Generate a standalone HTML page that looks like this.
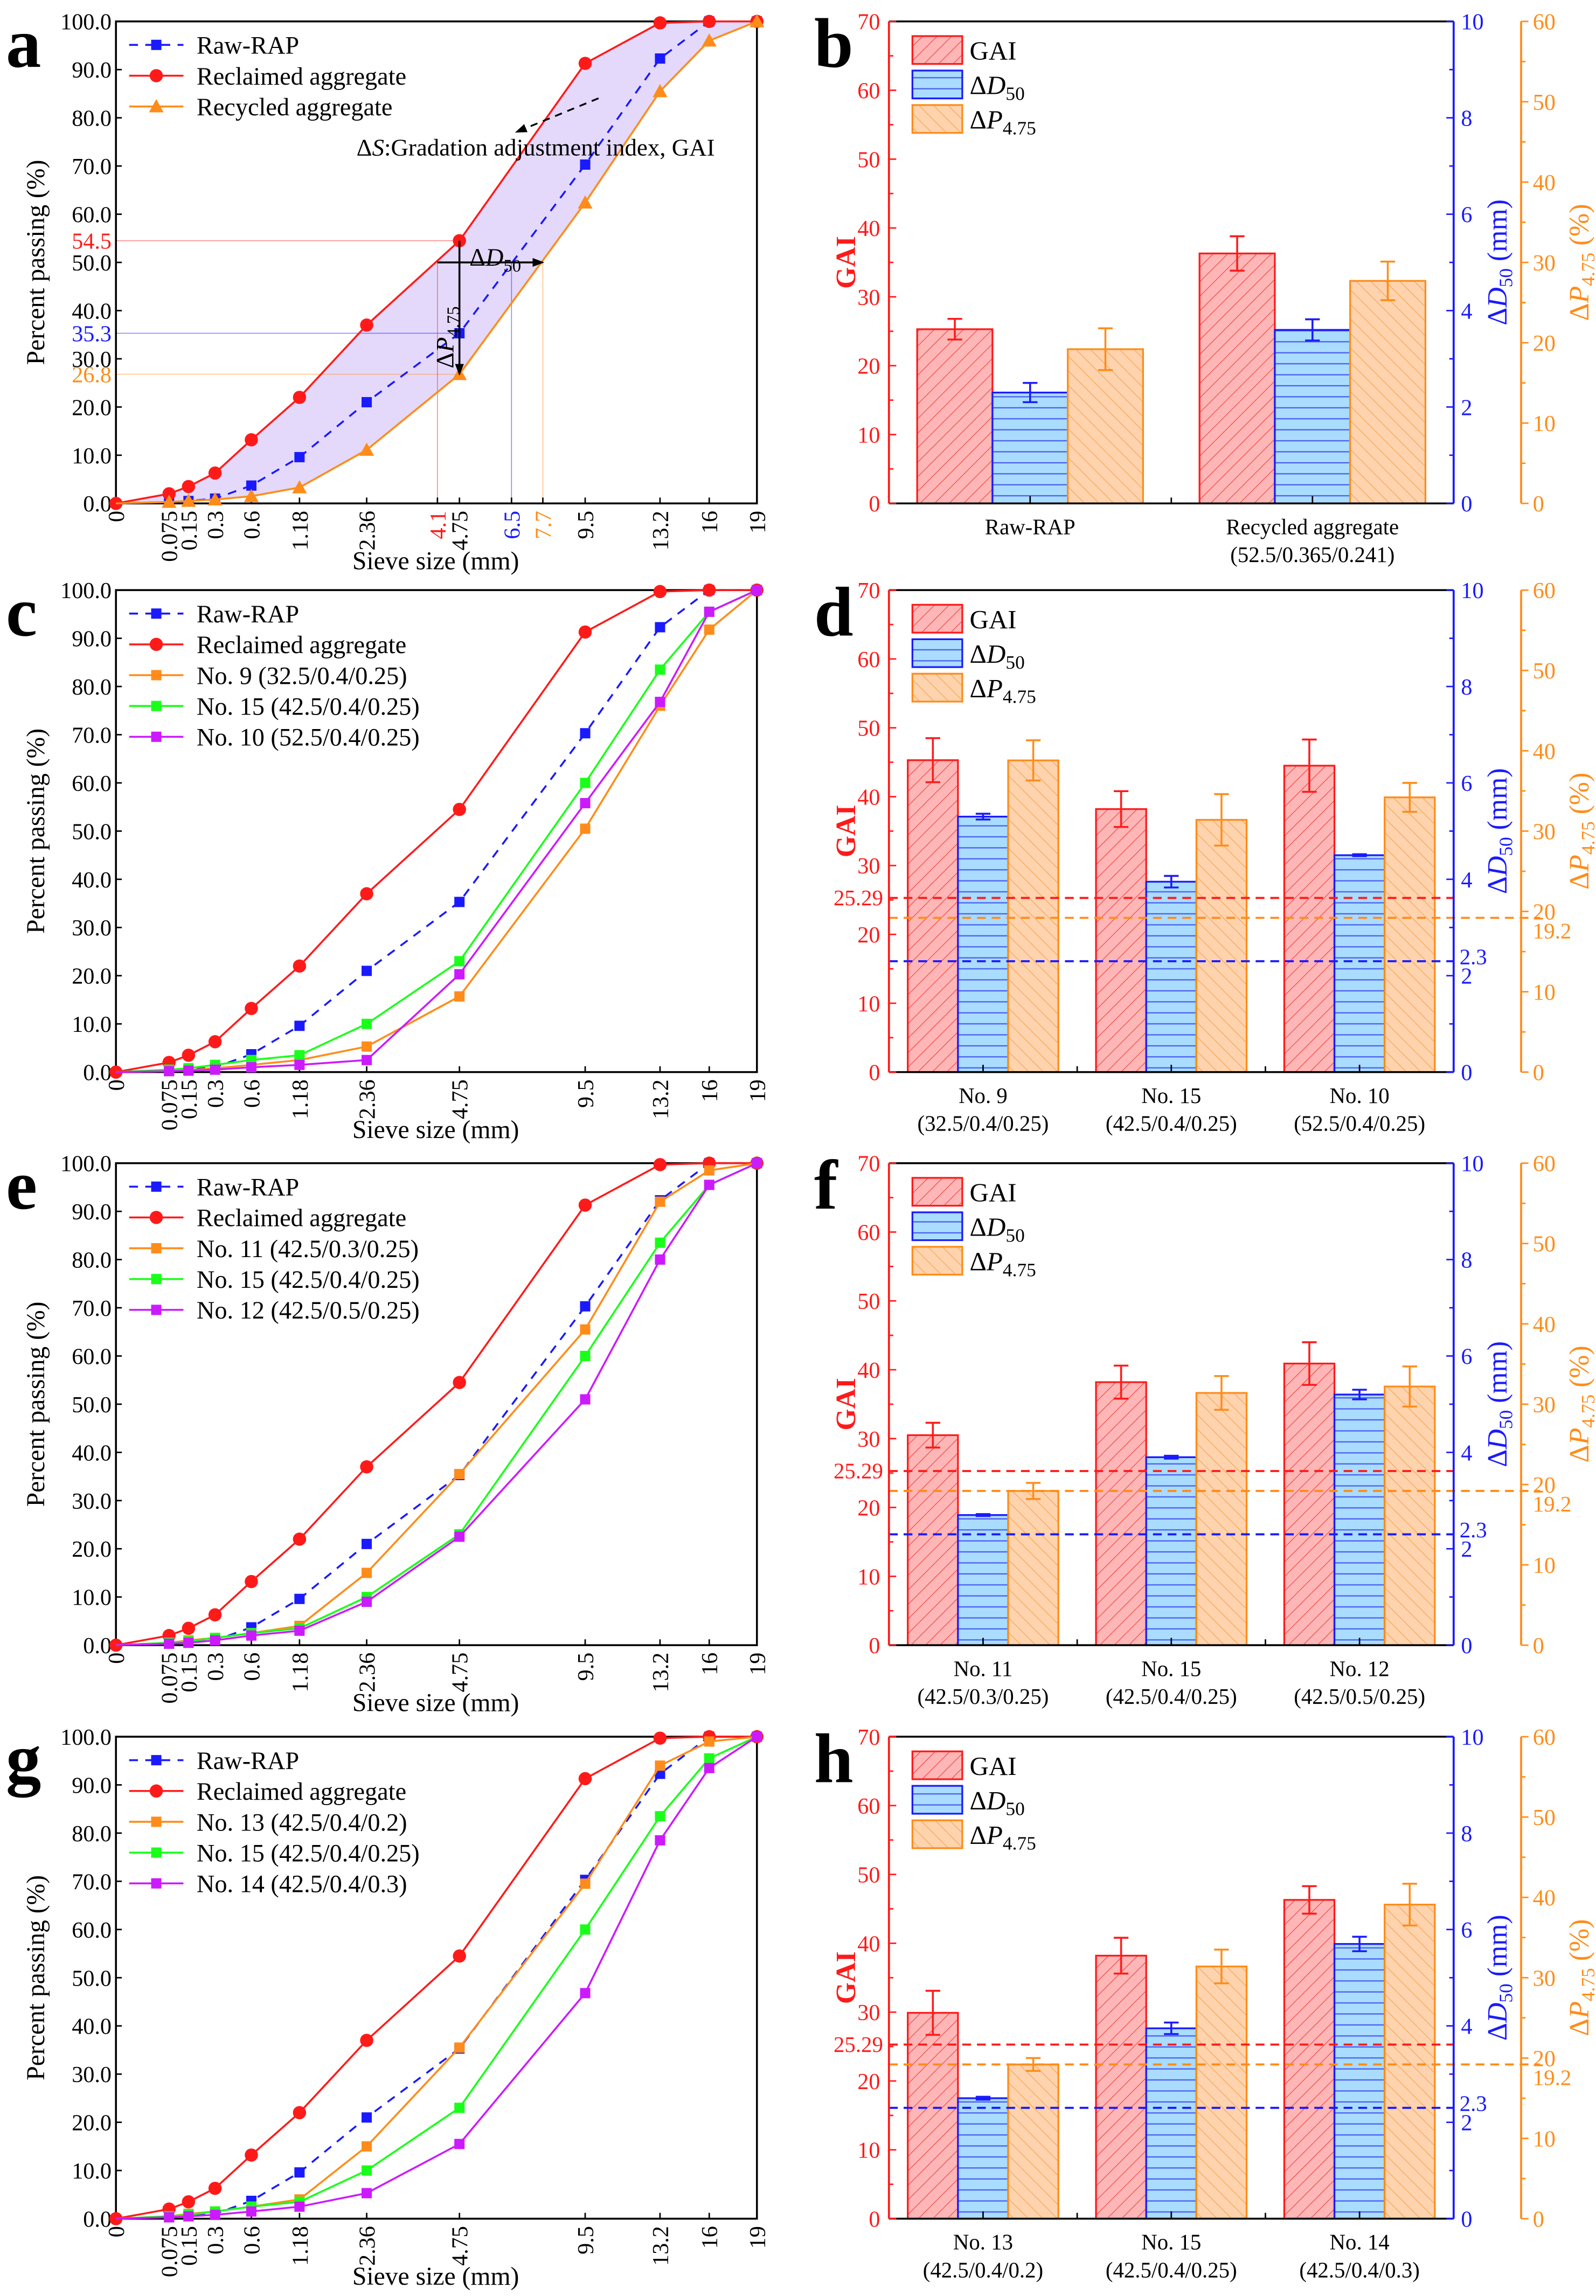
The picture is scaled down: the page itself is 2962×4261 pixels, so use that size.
<!DOCTYPE html>
<html><head><meta charset="utf-8"><title>Gradation charts</title>
<style>
html,body{margin:0;padding:0;background:#fff;}
svg{display:block;font-family:"Liberation Serif","DejaVu Serif",serif;}
svg text{font-family:"Liberation Serif","Times New Roman",serif;}
</style></head>
<body>
<svg id="chart" xmlns="http://www.w3.org/2000/svg" width="2962" height="4261" viewBox="0 0 1088 1565.3">
<defs>
<pattern id="hatchRed" patternUnits="userSpaceOnUse" width="7" height="7" patternTransform="rotate(45)">
<rect width="7" height="7" fill="#ffb6b6"/><line x1="0" y1="0" x2="0" y2="7" stroke="#f03c3c" stroke-width="0.8"/></pattern>
<pattern id="hatchBlue" patternUnits="userSpaceOnUse" width="7" height="7.5">
<rect width="7" height="7.5" fill="#a9dcff"/><line x1="0" y1="0.5" x2="7" y2="0.5" stroke="#4a5cf0" stroke-width="0.8"/></pattern>
<pattern id="hatchOrange" patternUnits="userSpaceOnUse" width="7" height="7" patternTransform="rotate(-45)">
<rect width="7" height="7" fill="#ffd3ad"/><line x1="0" y1="0" x2="0" y2="7" stroke="#f3a04a" stroke-width="0.8"/></pattern>
<marker id="arrowK" markerWidth="8" markerHeight="8" refX="7" refY="4" orient="auto" markerUnits="userSpaceOnUse"><path d="M0,1 L8,4 L0,7 Z" fill="#000"/></marker>
</defs>
</svg>
<script>
// ---------- data ----------
const sieves = [0,0.075,0.15,0.3,0.6,1.18,2.36,4.75,9.5,13.2,16,19];
const xTickLabels = ["0","0.075","0.15","0.3","0.6","1.18","2.36","4.75","9.5","13.2","16","19"];
const yTickVals = [0,10,20,30,40,50,60,70,80,90,100];

const rawRAP = [0,0.3,0.5,1.0,3.7,9.6,21.0,35.3,70.3,92.3,100,100];
const reclaimed = [0,2.0,3.5,6.3,13.2,22.0,37.0,54.5,91.3,99.7,100,100];
const recycledAgg = [0,0.3,0.5,0.8,1.5,3.3,11.1,26.8,62.4,85.5,96.0,100];

const no9 = [0,0.2,0.4,0.8,1.5,2.5,5.3,15.7,50.5,76.0,91.8,100];
const no15 = [0,0.5,0.8,1.5,2.5,3.5,10.0,23.0,60.0,83.5,95.5,100];
const no10 = [0,0.2,0.3,0.5,1.0,1.5,2.5,20.3,55.8,76.8,95.5,100];
const no11 = [0,0.5,1.0,1.5,2.5,4.0,15.0,35.5,65.5,92.0,98.5,100];
const no12 = [0,0.3,0.5,1.0,2.0,3.0,9.0,22.5,51.0,80.0,95.5,100];
const no13 = [0,0.5,1.0,1.5,2.5,4.0,15.0,35.5,69.5,94.0,99.0,100];
const no14 = [0,0.3,0.5,0.8,1.5,2.5,5.3,15.5,46.8,78.5,93.5,100];

const catsB = [["Raw-RAP"],["Recycled aggregate","(52.5/0.365/0.241)"]];
const gaiB = [25.3,36.3]; const gaiErrB = [1.5,2.5];
const d50B = [2.3,3.6]; const d50ErrB = [0.2,0.22];
const p475B = [19.2,27.7]; const p475ErrB = [2.6,2.4];

const catsD = [["No. 9","(32.5/0.4/0.25)"],["No. 15","(42.5/0.4/0.25)"],["No. 10","(52.5/0.4/0.25)"]];
const gaiD = [45.3,38.2,44.5]; const gaiErrD = [3.2,2.6,3.8];
const d50D = [5.3,3.95,4.5]; const d50ErrD = [0.06,0.12,0.02];
const p475D = [38.8,31.4,34.2]; const p475ErrD = [2.5,3.2,1.8];

const catsF = [["No. 11","(42.5/0.3/0.25)"],["No. 15","(42.5/0.4/0.25)"],["No. 12","(42.5/0.5/0.25)"]];
const gaiF = [30.5,38.2,40.9]; const gaiErrF = [1.8,2.4,3.1];
const d50F = [2.7,3.9,5.2]; const d50ErrF = [0.02,0.03,0.1];
const p475F = [19.2,31.4,32.2]; const p475ErrF = [1.0,2.1,2.5];

const catsH = [["No. 13","(42.5/0.4/0.2)"],["No. 15","(42.5/0.4/0.25)"],["No. 14","(42.5/0.4/0.3)"]];
const gaiH = [29.9,38.2,46.3]; const gaiErrH = [3.2,2.6,2.0];
const d50H = [2.5,3.95,5.7]; const d50ErrH = [0.03,0.12,0.15];
const p475H = [19.2,31.4,39.1]; const p475ErrH = [0.8,2.1,2.6];

const refGAI = 25.29; const refD50 = 2.3; const refP475 = 19.2;

// ---------- helpers ----------
const NS='http://www.w3.org/2000/svg';
const svg=document.getElementById('chart');
const FF='"Liberation Serif","Times New Roman",serif';
function mk(tag,attrs,parent){const e=document.createElementNS(NS,tag);for(const k in attrs)e.setAttribute(k,attrs[k]);(parent||svg).appendChild(e);return e;}
function txt(str,attrs,parent){attrs['font-family']=FF;const e=mk('text',attrs,parent);e.innerHTML=str;return e;}

const L=79,R=516,H=328.6;
function xs(v){return L+(R-L)*Math.pow(v,0.45)/Math.pow(19,0.45);}

function marker(g,type,x,y,color){
  let m;
  if(type==='circle'){m=mk('circle',{cx:x,cy:y,r:4.5,fill:color},g);}
  else if(type==='tri'){m=mk('path',{d:`M${x},${y-5} L${x+5},${y+4} L${x-5},${y+4} Z`,fill:color},g);}
  else {m=mk('rect',{x:x-3.5,y:y-3.5,width:7,height:7,fill:color},g);}
  
  
  return m;
}

function drawLinePanel(top,letter,seriesList,opts){
  const g=mk('g',{});
  
  
  const bottom=top+H;
  const ys=v=>bottom-H*v/100;
  if(opts.fill){
    const a=opts.fill[0],b=opts.fill[1];
    let pts=sieves.map((s,i)=>xs(s)+','+ys(a[i]));
    for(let i=sieves.length-1;i>=0;i--)pts.push(xs(sieves[i])+','+ys(b[i]));
    const f=mk('polygon',{points:pts.join(' '),fill:'#e4d9fb'},g);
    
    
  }
  if(opts.refs){
    opts.refs.forEach(r=>{
      const h=mk('line',{x1:L,y1:ys(r.y),x2:xs(r.x),y2:ys(r.y),stroke:r.c,'stroke-width':0.6,opacity:0.5},g);
      
      
    });
    opts.vrefs.forEach(r=>{
      const v=mk('line',{x1:xs(r.x),y1:bottom,x2:xs(r.x),y2:ys(50),stroke:r.c,'stroke-width':0.6,opacity:0.5},g);
      
      
    });
  }
  const fr=mk('rect',{x:L,y:top,width:R-L,height:H,fill:'none',stroke:'#000','stroke-width':1.3},g);
  
  
  yTickVals.forEach(v=>{
    mk('line',{x1:L,y1:ys(v),x2:L+4,y2:ys(v),stroke:'#000','stroke-width':1},g);
    const t=txt(v.toFixed(1),{x:L-3,y:ys(v)+5.5,'text-anchor':'end','font-size':15.5},g);
    
    
  });
  const xt=sieves.map((s,i)=>({v:s,l:xTickLabels[i],c:'#000'})).concat(opts.extraX||[]);
  xt.forEach(o=>{
    const x=xs(o.v);
    mk('line',{x1:x,y1:bottom,x2:x,y2:bottom-4,stroke:'#000','stroke-width':1},g);
    const t=txt(o.l,{x:0,y:0,'text-anchor':'end','font-size':15.5,fill:o.c,transform:`translate(${x+5.5},${bottom+5}) rotate(-90)`},g);
    
    
  });
  if(opts.extraY){
    opts.extraY.forEach(o=>{
      const t=txt(o.l,{x:L-3,y:ys(o.v)+5.5,'text-anchor':'end','font-size':15.5,fill:o.c},g);
      
      
    });
  }
  seriesList.forEach(s=>{
    const pts=sieves.map((sv,i)=>xs(sv)+','+ys(s.vals[i])).join(' ');
    const pl=mk('polyline',{points:pts,fill:'none',stroke:s.color,'stroke-width':1.3,'stroke-dasharray':s.dash?'6,5':'none'},g);
    
    
    sieves.forEach((sv,i)=>{ if(i>0||s.marker==='circle') marker(g,s.marker,xs(sv),ys(s.vals[i]),s.color); });
  });
  const lg=mk('g',{},g);
  
  
  seriesList.forEach((s,i)=>{
    const y=top+16+i*21;
    mk('line',{x1:88,y1:y,x2:125,y2:y,stroke:s.color,'stroke-width':1.3,'stroke-dasharray':s.dash?'6,5':'none'},lg);
    marker(lg,s.marker,106.5,y,s.color);
    const t=txt(s.name,{x:134,y:y+6,'font-size':17},lg);
    
    
  });
  const xt2=txt('Sieve size (mm)',{x:297,y:bottom+45,'text-anchor':'middle','font-size':17.5},g);
  
  
  const yt=txt('Percent passing (%)',{x:0,y:0,'text-anchor':'middle','font-size':17.5,transform:`translate(30,${top+H/2}) rotate(-90)`},g);
  
  
  const pl=txt(letter,{x:4,y:top+31,'font-size':48,'font-weight':'bold'},g);
  
  
  return {g,ys,bottom};
}

const BL=606,BR=991,AO=1037;
function drawBarPanel(top,letter,cats,gai,gaiE,d50,d50E,p,pE,refs){
  const g=mk('g',{});
  
  
  const bottom=top+H;
  const yG=v=>bottom-H*v/70, yD=v=>bottom-H*v/10, yP=v=>bottom-H*v/60;
  const n=cats.length, band=(BR-BL)/n, bw=band*0.8/3;
  const sets=[{vals:gai,err:gaiE,f:yG,fill:'url(#hatchRed)',c:'#ff1a1a',k:'gai'},
              {vals:d50,err:d50E,f:yD,fill:'url(#hatchBlue)',c:'#1a1aff',k:'d50'},
              {vals:p,err:pE,f:yP,fill:'url(#hatchOrange)',c:'#ff8c1a',k:'p475'}];
  for(let i=0;i<n;i++){
    const x0=BL+band*i+band*0.1;
    sets.forEach((s,j)=>{
      const x=x0+j*bw, y=s.f(s.vals[i]);
      const b=mk('rect',{x:x,y:y,width:bw,height:bottom-y,fill:s.fill,stroke:s.c,'stroke-width':1.2},g);
      
      
      const cx=x+bw/2, y1=s.f(s.vals[i]+s.err[i]), y2=s.f(s.vals[i]-s.err[i]);
      const eb=mk('path',{d:`M${cx},${y1} V${y2} M${cx-5},${y1} H${cx+5} M${cx-5},${y2} H${cx+5}`,stroke:s.c,'stroke-width':1.3,fill:'none'},g);
      
      
    });
    const cx=BL+band*(i+0.5);
    mk('line',{x1:cx,y1:bottom,x2:cx,y2:bottom-5,stroke:'#000','stroke-width':1},g);
    if(i>0) mk('line',{x1:BL+band*i,y1:bottom,x2:BL+band*i,y2:bottom-4,stroke:'#000','stroke-width':1},g);
    cats[i].forEach((line,k)=>{
      const t=txt(line,{x:cx,y:bottom+21+k*19,'text-anchor':'middle','font-size':15},g);
      
      
    });
  }
  if(refs){
    const r1=mk('line',{x1:BL,y1:yG(refGAI),x2:BR,y2:yG(refGAI),stroke:'#ff1a1a','stroke-width':1.4,'stroke-dasharray':'6,4'},g);
    
    
    const r2=mk('line',{x1:BL,y1:yP(refP475),x2:1050,y2:yP(refP475),stroke:'#ff8c1a','stroke-width':1.4,'stroke-dasharray':'6,4'},g);
    
    
    const r3=mk('line',{x1:BL,y1:yD(refD50),x2:BR,y2:yD(refD50),stroke:'#1a1aff','stroke-width':1.4,'stroke-dasharray':'6,4'},g);
    
    
    txt(String(refGAI),{x:BL-4,y:yG(refGAI)+5,'text-anchor':'end','font-size':15,fill:'#ff1a1a'},g);
    txt(String(refD50),{x:BR+4,y:yD(refD50)+2,'font-size':15,fill:'#1a1aff'},g);
    txt(String(refP475),{x:AO+8,y:yP(refP475)+14,'font-size':15,fill:'#ff8c1a'},g);
  }
  mk('line',{x1:BL,y1:top,x2:BR,y2:top,stroke:'#000','stroke-width':1.3},g);
  mk('line',{x1:BL,y1:bottom,x2:BR,y2:bottom,stroke:'#000','stroke-width':1.3},g);
  mk('line',{x1:BL,y1:top,x2:BL,y2:bottom,stroke:'#ff1a1a','stroke-width':1.4},g);
  mk('line',{x1:BR,y1:top,x2:BR,y2:bottom,stroke:'#1a1aff','stroke-width':1.4},g);
  mk('line',{x1:AO,y1:top,x2:AO,y2:bottom,stroke:'#ff8c1a','stroke-width':1.4},g);
  for(let v=0;v<=70;v+=5){
    mk('line',{x1:BL,y1:yG(v),x2:BL+(v%10?3:5),y2:yG(v),stroke:'#ff1a1a','stroke-width':1},g);
    if(v%10===0) txt(String(v),{x:BL-6,y:yG(v)+5.5,'text-anchor':'end','font-size':15.5,fill:'#ff1a1a'},g);
  }
  for(let v=0;v<=10;v+=1){
    mk('line',{x1:BR,y1:yD(v),x2:BR-(v%2?3:5),y2:yD(v),stroke:'#1a1aff','stroke-width':1},g);
    if(v%2===0) txt(String(v),{x:BR+5,y:yD(v)+5.5,'font-size':15.5,fill:'#1a1aff'},g);
  }
  for(let v=0;v<=60;v+=5){
    mk('line',{x1:AO,y1:yP(v),x2:AO+(v%10?3:5),y2:yP(v),stroke:'#ff8c1a','stroke-width':1},g);
    if(v%10===0) txt(String(v),{x:AO+8,y:yP(v)+5.5,'font-size':15.5,fill:'#ff8c1a'},g);
  }
  const t1=txt('GAI',{x:0,y:0,'text-anchor':'middle','font-size':19,'font-weight':'bold',fill:'#ff1a1a',transform:`translate(583,${top+H/2}) rotate(-90)`},g);
  
  
  const t2=txt('Δ<tspan font-style="italic">D</tspan><tspan font-size="13" dy="4">50</tspan><tspan dy="-4"> (mm)</tspan>',{x:0,y:0,'text-anchor':'middle','font-size':19,fill:'#1a1aff',transform:`translate(1027,${top+H/2}) rotate(-90)`},g);
  
  
  const t3=txt('Δ<tspan font-style="italic">P</tspan><tspan font-size="13" dy="4">4.75</tspan><tspan dy="-4"> (%)</tspan>',{x:0,y:0,'text-anchor':'middle','font-size':19,fill:'#ff8c1a',transform:`translate(1083,${top+H/2}) rotate(-90)`},g);
  
  
  const lg=mk('g',{},g);
  
  
  const labs=['GAI','Δ<tspan font-style="italic">D</tspan><tspan font-size="13" dy="4">50</tspan>','Δ<tspan font-style="italic">P</tspan><tspan font-size="13" dy="4">4.75</tspan>'];
  sets.forEach((s,j)=>{
    const y=top+10+j*23.5;
    mk('rect',{x:622,y:y,width:34,height:19,fill:s.fill,stroke:s.c,'stroke-width':1.2},lg);
    const t=txt(labs[j],{x:661,y:y+16,'font-size':18},lg);
    
    
  });
  const pl=txt(letter,{x:555,y:top+31,'font-size':48,'font-weight':'bold'},g);
  
  
}

// ---------- panels ----------
const tops=[14.6,402.3,793,1184];
const blue='#1a1aff', red='#ff1a1a', orange='#ff8c1a', green='#1aff1a', purple='#cc1aff';

const pa=drawLinePanel(tops[0],'a',[
  {key:'raw-rap',name:'Raw-RAP',vals:rawRAP,color:blue,marker:'square',dash:true},
  {key:'reclaimed',name:'Reclaimed aggregate',vals:reclaimed,color:red,marker:'circle'},
  {key:'recycled',name:'Recycled aggregate',vals:recycledAgg,color:orange,marker:'tri'}
],{fill:[reclaimed,recycledAgg],
  refs:[{y:54.5,x:4.75,c:red},{y:35.3,x:4.75,c:blue},{y:26.8,x:4.75,c:orange}],
  vrefs:[{x:4.1,c:red},{x:6.5,c:blue},{x:7.7,c:orange}],
  extraX:[{v:4.1,l:'4.1',c:red},{v:6.5,l:'6.5',c:blue},{v:7.7,l:'7.7',c:orange}],
  extraY:[{v:54.5,l:'54.5',c:red},{v:35.3,l:'35.3',c:blue},{v:26.8,l:'26.8',c:orange}]});
(function(){
  const g=mk('g',{});
  
  
  const ys=pa.ys;
  mk('line',{x1:408,y1:67,x2:352,y2:90,stroke:'#000','stroke-width':1.2,'stroke-dasharray':'5,4','marker-end':'url(#arrowK)'},g);
  txt('Δ<tspan font-style="italic">S</tspan>:Gradation adjustment index, GAI',{x:243,y:106,'font-size':16.5},g);
  mk('line',{x1:xs(4.1),y1:ys(50),x2:xs(7.7),y2:ys(50),stroke:'#000','stroke-width':1.3,'marker-end':'url(#arrowK)'},g);
  mk('line',{x1:xs(4.75),y1:ys(54.5),x2:xs(4.75),y2:ys(26.8),stroke:'#000','stroke-width':1.3,'marker-end':'url(#arrowK)'},g);
  txt('Δ<tspan font-style="italic">D</tspan><tspan font-size="12" dy="4">50</tspan>',{x:320,y:ys(54.5)+17,'font-size':17},g);
  txt('Δ<tspan font-style="italic">P</tspan><tspan font-size="12" dy="4">4.75</tspan>',{x:0,y:0,'font-size':17,transform:`translate(309,${ys(26.8)-4}) rotate(-90)`},g);
})();

drawLinePanel(tops[1],'c',[
  {key:'raw-rap',name:'Raw-RAP',vals:rawRAP,color:blue,marker:'square',dash:true},
  {key:'reclaimed',name:'Reclaimed aggregate',vals:reclaimed,color:red,marker:'circle'},
  {key:'no9',name:'No. 9 (32.5/0.4/0.25)',vals:no9,color:orange,marker:'square'},
  {key:'no15',name:'No. 15 (42.5/0.4/0.25)',vals:no15,color:green,marker:'square'},
  {key:'no10',name:'No. 10 (52.5/0.4/0.25)',vals:no10,color:purple,marker:'square'}
],{});
drawLinePanel(tops[2],'e',[
  {key:'raw-rap',name:'Raw-RAP',vals:rawRAP,color:blue,marker:'square',dash:true},
  {key:'reclaimed',name:'Reclaimed aggregate',vals:reclaimed,color:red,marker:'circle'},
  {key:'no11',name:'No. 11 (42.5/0.3/0.25)',vals:no11,color:orange,marker:'square'},
  {key:'no15',name:'No. 15 (42.5/0.4/0.25)',vals:no15,color:green,marker:'square'},
  {key:'no12',name:'No. 12 (42.5/0.5/0.25)',vals:no12,color:purple,marker:'square'}
],{});
drawLinePanel(tops[3],'g',[
  {key:'raw-rap',name:'Raw-RAP',vals:rawRAP,color:blue,marker:'square',dash:true},
  {key:'reclaimed',name:'Reclaimed aggregate',vals:reclaimed,color:red,marker:'circle'},
  {key:'no13',name:'No. 13 (42.5/0.4/0.2)',vals:no13,color:orange,marker:'square'},
  {key:'no15',name:'No. 15 (42.5/0.4/0.25)',vals:no15,color:green,marker:'square'},
  {key:'no14',name:'No. 14 (42.5/0.4/0.3)',vals:no14,color:purple,marker:'square'}
],{});

drawBarPanel(tops[0],'b',catsB,gaiB,gaiErrB,d50B,d50ErrB,p475B,p475ErrB,false);
drawBarPanel(tops[1],'d',catsD,gaiD,gaiErrD,d50D,d50ErrD,p475D,p475ErrD,true);
drawBarPanel(tops[2],'f',catsF,gaiF,gaiErrF,d50F,d50ErrF,p475F,p475ErrF,true);
drawBarPanel(tops[3],'h',catsH,gaiH,gaiErrH,d50H,d50ErrH,p475H,p475ErrH,true);
</script>
</body></html>
